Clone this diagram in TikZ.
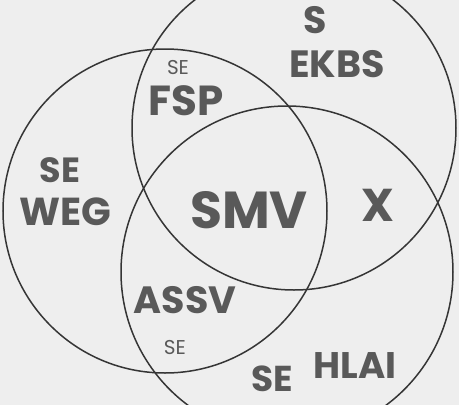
\documentclass[tikz,border=0pt]{standalone}
\usepackage{fontspec}
\setmainfont{Poppins}
\definecolor{ink}{HTML}{353535}
\definecolor{txt}{HTML}{595959}
\definecolor{paper}{HTML}{EEEEEE}
\begin{document}
\begin{tikzpicture}[x=1pt,y=-1pt,
  ring/.style={draw=ink,line width=1.5pt},
  lbl/.style={text=txt,inner sep=0pt,font=\fontsize{#1}{#1}\selectfont\bfseries},
  slbl/.style={text=txt,inner sep=0pt,font=\fontsize{#1}{#1}\selectfont}]
\fill[paper] (0,0) rectangle (459,405);
\useasboundingbox (0,0) rectangle (459,405);
\begin{scope}
\clip (0,0) rectangle (459,405);
\draw[ring] (165,211) circle[radius=162];
\draw[ring] (294,128) circle[radius=162];
\draw[ring] (287,272) circle[radius=166];
\end{scope}
\node[lbl=38] (s) at (315,20) {S};
\node[lbl=38] (ekbs) at (337,64) {EKBS};
\node[slbl=20] (se1) at (178,68) {SE};
\node[lbl=42] (fsp) at (186,101) {FSP};
\node[lbl=35] (se2) at (60,170) {SE};
\node[lbl=39] (weg) at (65,212) {WEG};
\node[lbl=52] (smv) at (249,210) {SMV};
\node[lbl=46] (x) at (378,205) {X};
\node[lbl=38] (assv) at (185,300) {ASSV};
\node[slbl=20] (se3) at (175,348) {SE};
\node[lbl=36] (se4) at (272,379) {SE};
\node[lbl=37] (hlai) at (355,366) {HLAI};
\end{tikzpicture}
\end{document}
